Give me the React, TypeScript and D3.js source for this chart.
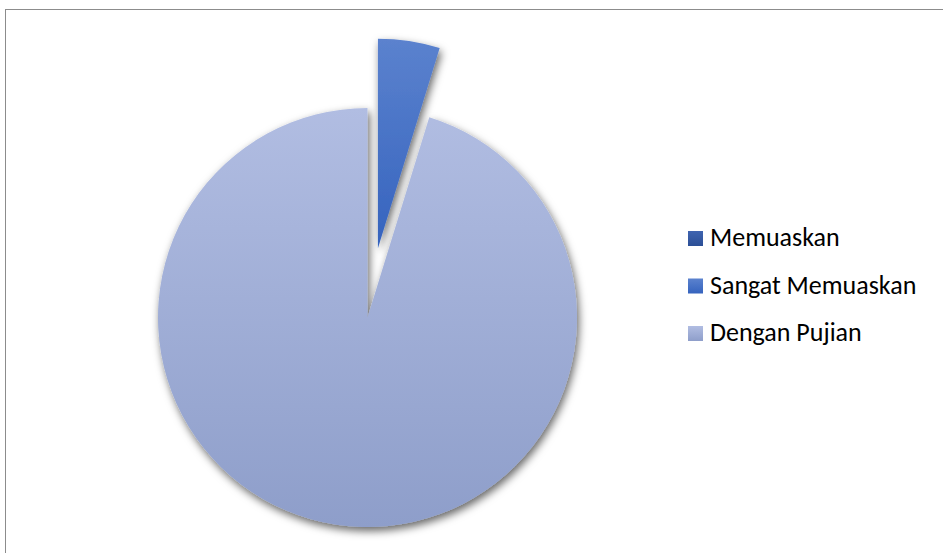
import React from "react";
import * as d3 from "d3";

const categories = ["Memuaskan", "Sangat Memuaskan", "Dengan Pujian"];
const values = [0, 1, 20];
const topColors = ["#3F64B0", "#5B82CE", "#B1BDE2"];
const bottomColors = ["#2C4F96", "#3563BE", "#8E9ECA"];

export default function App() {
  const W = 943, H = 553;
  const cx = 367.5, cy = 317.5, r = 209.5;
  const explode = [0, 70, 0];
  const pie = d3.pie<number>().sort(null).value((d) => d)(values);
  const arc = d3.arc<d3.PieArcDatum<number>>().innerRadius(0).outerRadius(r);

  return (
    <svg width={W} height={H} style={{ position: "absolute", left: 0, top: 0 }}>
      <defs>
        {categories.map((c, i) => (
          <linearGradient key={c} id={`g${i}`} x1="0" y1="0" x2="0" y2="1">
            <stop offset="0" stopColor={topColors[i]} />
            <stop offset="1" stopColor={bottomColors[i]} />
          </linearGradient>
        ))}
        <filter id="sh" x="-20%" y="-20%" width="140%" height="140%">
          <feDropShadow dx="2" dy="4" stdDeviation="4" floodColor="#000" floodOpacity="0.6" />
        </filter>
      </defs>
      <rect x={5.5} y={9.5} width={W} height={H} fill="#fff" stroke="#8c8c8c" strokeWidth={1} />
      <g transform={`translate(${cx},${cy})`}>
        {pie.map((p, i) => {
          if (p.value === 0) return null;
          const mid = (p.startAngle + p.endAngle) / 2;
          const dx = Math.sin(mid) * explode[i];
          const dy = -Math.cos(mid) * explode[i];
          return (
            <path
              key={categories[i]}
              d={arc(p) || ""}
              transform={`translate(${dx},${dy})`}
              fill={`url(#g${i})`}
              filter="url(#sh)"
            />
          );
        })}
      </g>
      <g fontFamily="Carlito, Calibri, Lato, 'Open Sans', sans-serif" fontSize={26} fill="#000">
        {categories.map((c, i) => (
          <g key={c} transform={`translate(688,${231 + i * 47.5})`}>
            <rect width={15} height={15} fill={`url(#g${i})`} />
            <text x={22} y={15}>{c}</text>
          </g>
        ))}
      </g>
    </svg>
  );
}
